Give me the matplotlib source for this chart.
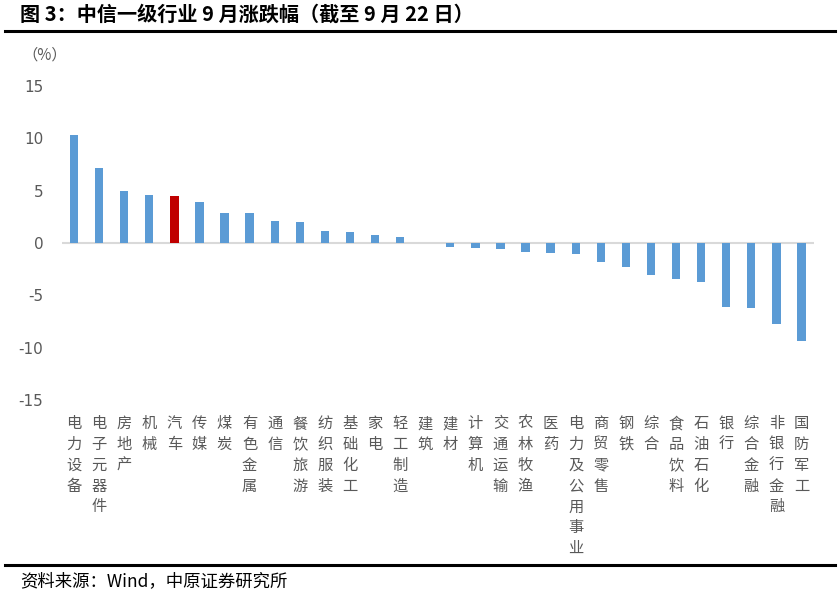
import matplotlib
matplotlib.use("Agg")
import matplotlib.pyplot as plt
from matplotlib.lines import Line2D

plt.rcParams['font.family'] = ['Noto Sans CJK SC', 'DejaVu Sans']

categories = ["电力设备", "电子元器件", "房地产", "机械", "汽车", "传媒", "煤炭", "有色金属",
              "通信", "餐饮旅游", "纺织服装", "基础化工", "家电", "轻工制造", "建筑", "建材",
              "计算机", "交通运输", "农林牧渔", "医药", "电力及公用事业", "商贸零售", "钢铁",
              "综合", "食品饮料", "石油石化", "银行", "综合金融", "非银行金融", "国防军工"]
values = [10.3, 7.13, 4.96, 4.55, 4.46, 3.91, 2.86, 2.85, 2.1, 2.03, 1.15, 1.05, 0.73, 0.54,
          0.02, -0.35, -0.45, -0.54, -0.89, -0.98, -1.08, -1.78, -2.29, -3.08, -3.46, -3.72,
          -6.14, -6.2, -7.73, -9.32]
highlight = "汽车"
yticks = [-15, -10, -5, 0, 5, 10, 15]

W, H = 840, 597
fig = plt.figure(figsize=(W / 100, H / 100), dpi=100)
ax = fig.add_axes([61.5 / W, (H - 400) / H, (814 - 61.5) / W, (400 - 86) / H])

colors = ["#C00000" if c == highlight else "#5B9BD5" for c in categories]
x = list(range(len(categories)))
ax.bar(x, values, width=0.33, color=colors, zorder=3)
ax.axhline(0, color="#D9D9D9", lw=1.5, zorder=2)

ax.set_xlim(-0.5, len(categories) - 0.5)
ax.set_ylim(-15, 15)
ax.set_yticks(yticks)
ax.set_yticklabels([str(v) for v in yticks], color="#595959", fontsize=11, family=['DejaVu Sans'])
ax.tick_params(axis='y', length=0, pad=13)
ax.set_xticks(x)
ax.set_xticklabels(["\n".join(c) for c in categories], color="#595959", fontsize=11,
                   linespacing=1.29, va='top')
ax.tick_params(axis='x', length=0, pad=11)
for s in ax.spines.values():
    s.set_visible(False)

fig.text(45 / W, 1 - 55 / H, "（%）", color="#595959", fontsize=11, ha='center', va='center')

fig.text(20 / W, 1 - 14 / H, "图 3：中信一级行业 9 月涨跌幅（截至 9 月 22 日）", fontsize=14.5,
         fontweight='bold', ha='left', va='center', color="black")
fig.add_artist(Line2D([5 / W, 835 / W], [1 - 31 / H, 1 - 31 / H], color='black', lw=2.2))
fig.add_artist(Line2D([5 / W, 835 / W], [1 - 565 / H, 1 - 565 / H], color='black', lw=2.2))
fig.text(20 / W, 1 - 581 / H, "资料来源：Wind，中原证券研究所", fontsize=12.5, ha='left',
         va='center', color="black")

fig.savefig("out.png", dpi=100)
